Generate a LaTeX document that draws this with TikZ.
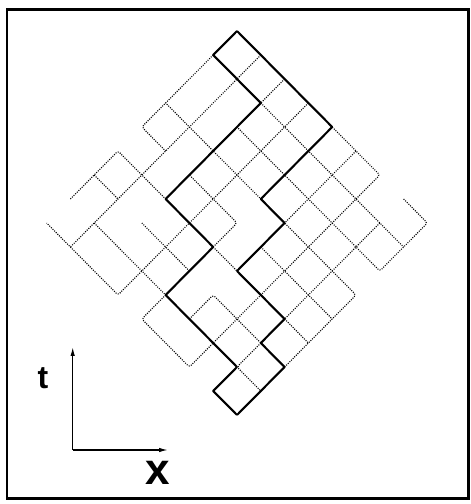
\documentclass[tikz,border=0pt]{standalone}
\usepackage{fontspec}
\setsansfont{Liberation Sans}
\usetikzlibrary{arrows.meta}
\tikzset{
  frame/.style={draw=black, line width=2.4pt},
  boldpath/.style={line width=2.1pt, line join=round},
  dotpath/.style={line width=1.1pt, dash pattern=on 1pt off 1.3pt, rounded corners=2.5pt},
  axisarrow/.style={-{Latex[length=9pt,width=4.5pt]}, line width=1.3pt},
  axislabel/.style={inner sep=0pt, font=\sffamily\bfseries\fontsize{#1}{#1}\selectfont}
}
\begin{document}
\begin{tikzpicture}[x=1pt,y=1pt]
  \useasboundingbox (0,0) rectangle (471,504);
  \draw[frame] (7,5.5) rectangle (468.5,494.5);
  \foreach \a in {0,...,8}
    \foreach \b in {0,...,8}
      \coordinate (p\a\b) at ({237+23.8*(\a-\b)},{473-24*(\a+\b)});
  \draw[dotpath] (p01) -- (p04) -- (p14);
  \draw[dotpath] (p07) -- (p05) -- (p25);
  \draw[dotpath] (p10) -- (p18);
  \draw[dotpath] (p20) -- (p21);
  \draw[dotpath] (p30) -- (p38) -- (p08);
  \draw[dotpath] (p45) -- (p44) -- (p24);
  \draw[dotpath] (p47) -- (p48) -- (p68) -- (p60) -- (p40);
  \draw[dotpath] (p50) -- (p53);
  \draw[dotpath] (p57) -- (p56) -- (p76);
  \draw[dotpath] (p71) -- (p75);
  \draw[dotpath] (p76) -- (p77) -- (p87);
  \draw[dotpath] (p70) -- (p80) -- (p82) -- (p22);
  \draw[dotpath] (p86) -- (p83) -- (p03);
  \draw[dotpath] (p21) -- (p81);
  \draw[dotpath] (p54) -- (p84);
  \draw[dotpath] (p45) -- (p55);
  \draw[dotpath] (p75) -- (p85);
  \draw[dotpath] (p06) -- (p16);
  \draw[dotpath] (p26) -- (p46);
  \draw[dotpath] (p17) -- (p47);
  \draw[boldpath] (p00) -- (p40) -- (p43) -- (p53) -- (p55) -- (p75) -- (p76) -- (p86) -- (p88);
  \draw[boldpath] (p00) -- (p01) -- (p21) -- (p25) -- (p45) -- (p47) -- (p77) -- (p78) -- (p88);
  \coordinate (origin) at (72.7,54);
  \coordinate (tend) at (72.7,157);
  \coordinate (xend) at (168,54);
  \draw[axisarrow] (origin) -- (tend);
  \draw[axisarrow] (origin) -- (xend);
  \node[axislabel=32] (tlabel) at (43,126) {t};
  \node[axislabel=44] (xlabel) at (158,31) {x};
\end{tikzpicture}
\end{document}
